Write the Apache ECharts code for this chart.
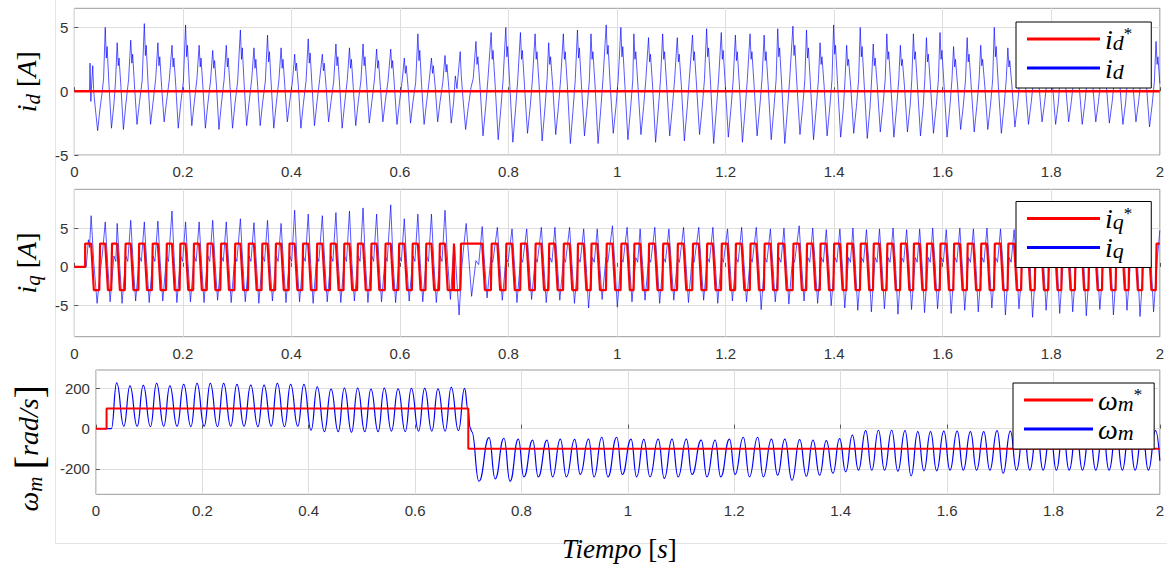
<!DOCTYPE html>
<html><head><meta charset="utf-8">
<script src="https://cdn.jsdelivr.net/npm/echarts@6/dist/echarts.min.js"></script>
<style>html,body{margin:0;padding:0;background:#fff}#c{width:1167px;height:569px}</style>
</head><body><div id="c"></div>
<script>
// ---------- tick labels ----------
const xTickStep = 0.2;
const yTicksId = [-5, 0, 5];
const yTicksIq = [-5, 0, 5];
const yTicksW = [-200, 0, 200];

// ---------- i_d ----------
const idRef = [[0,0],[2,0]];
const idMeas = [
[0,0],[0.028,0],[0.029,2.2],[0.0305,-0.8],[0.032,0.6],[0.034,2.0],[0.0355,0.2],[0.037,-0.6],[0.043,-3.1],[0.047,-1.5],[0.051,-0.2],[0.054,1.0],
[0.057,5.0],[0.059,2.6],[0.0605,3.5],[0.064,0.4],[0.0685,-2.9],[0.073,-1.0],[0.076,0.8],
[0.079,3.8],[0.081,2.0],[0.0825,2.6],[0.086,0.3],[0.0905,-3.0],[0.095,-1.0],[0.100,0.9],
[0.104,4.0],[0.106,2.2],[0.1075,2.9],[0.111,0.4],[0.1155,-2.6],[0.120,-0.9],[0.125,0.8],
[0.129,5.3],[0.131,2.8],[0.1325,3.6],[0.136,0.5],[0.1405,-2.6],[0.145,-0.9],[0.150,1.0],
[0.154,3.8],[0.156,2.0],[0.1575,2.7],[0.161,0.3],[0.1655,-2.4],[0.170,-0.8],[0.175,0.9],
[0.180,3.6],[0.182,1.9],[0.1835,2.6],[0.187,0.4],[0.1915,-2.9],[0.196,-1.0],[0.201,0.8],
[0.205,5.2],[0.207,2.7],[0.2085,3.6],[0.212,0.5],[0.2165,-2.7],[0.221,-0.9],[0.226,1.0],
[0.230,3.6],[0.232,1.9],[0.2335,2.6],[0.237,0.3],[0.2415,-2.9],[0.246,-1.0],[0.251,0.8],
[0.255,3.2],[0.257,1.8],[0.2585,2.4],[0.262,0.4],[0.2665,-3.0],[0.271,-1.0],[0.276,0.9],
[0.280,3.6],[0.282,1.9],[0.2835,2.6],[0.287,0.3],[0.2915,-2.9],[0.296,-1.0],[0.301,0.8],
[0.306,4.8],[0.308,2.5],[0.3095,3.4],[0.313,0.5],[0.3175,-2.7],[0.322,-0.9],[0.327,1.0],
[0.331,3.4],[0.333,1.8],[0.3345,2.5],[0.338,0.3],[0.3425,-2.7],[0.347,-0.9],[0.352,0.8],
[0.356,4.4],[0.358,2.3],[0.3595,3.1],[0.363,0.4],[0.3675,-2.9],[0.372,-1.0],[0.377,0.9],
[0.381,3.4],[0.383,1.8],[0.3845,2.5],[0.388,0.3],[0.3925,-2.4],[0.397,-0.8],[0.402,0.8],
[0.406,2.9],[0.408,1.6],[0.4095,2.2],[0.413,0.3],[0.4175,-2.9],[0.422,-1.0],[0.427,0.8],
[0.431,4.1],[0.433,2.2],[0.4345,3.0],[0.438,0.4],[0.4425,-2.7],[0.447,-0.9],[0.452,0.9],
[0.457,2.9],[0.459,1.6],[0.4605,2.2],[0.464,0.3],[0.4685,-2.4],[0.473,-0.8],[0.478,0.8],
[0.482,3.7],[0.484,2.0],[0.4855,2.7],[0.489,0.4],[0.4935,-2.9],[0.498,-1.0],[0.503,0.9],
[0.507,3.4],[0.509,1.8],[0.5105,2.5],[0.514,0.3],[0.5185,-2.7],[0.523,-0.9],[0.528,0.8],
[0.532,3.7],[0.534,2.0],[0.5355,2.7],[0.539,0.4],[0.5435,-2.5],[0.548,-0.9],[0.553,0.9],
[0.557,3.3],[0.559,1.8],[0.5605,2.4],[0.564,0.3],[0.5685,-2.4],[0.573,-0.8],[0.578,0.8],
[0.583,3.3],[0.585,1.8],[0.5865,2.4],[0.590,0.3],[0.5945,-2.6],[0.599,-0.9],[0.604,0.8],
[0.608,2.6],[0.610,1.4],[0.6115,2.0],[0.615,0.3],[0.6195,-2.5],[0.624,-0.8],[0.629,0.7],
[0.633,4.5],[0.635,2.4],[0.6365,3.2],[0.640,0.4],[0.6445,-2.6],[0.649,-0.9],[0.654,0.9],
[0.658,2.6],[0.660,1.4],[0.6615,2.0],[0.665,0.3],[0.6695,-2.4],[0.674,-0.8],[0.679,0.7],
[0.683,2.8],[0.685,1.5],[0.6865,2.1],[0.690,0.3],[0.6945,-2.5],[0.699,-0.8],
[0.702,1.2],[0.705,0.2],[0.711,3.1],[0.713,1.2],[0.716,-0.5],[0.721,-3.0],[0.726,-1.2],[0.731,0.3],[0.735,1.0],
[0.740,3.9],[0.742,2.1],[0.7435,2.7],[0.7475,0.4],[0.753,-3.5],[0.758,-1.2],[0.762,0.9],
[0.768,4.6],[0.770,2.5],[0.7715,3.2],[0.7755,0.4],[0.781,-3.8],[0.786,-1.3],[0.790,0.9],
[0.795,5.0],[0.797,2.7],[0.7985,3.5],[0.8025,0.4],[0.808,-4.0],[0.813,-1.4],[0.817,0.9],
[0.822,4.6],[0.824,2.5],[0.8255,3.2],[0.8295,0.4],[0.835,-3.3],[0.840,-1.2],[0.844,0.9],
[0.849,4.5],[0.851,2.5],[0.8525,3.1],[0.8565,0.4],[0.862,-3.9],[0.867,-1.4],[0.871,0.9],
[0.874,3.8],[0.876,2.1],[0.8775,2.7],[0.8815,0.4],[0.887,-3.4],[0.892,-1.2],[0.896,0.9],
[0.901,4.5],[0.903,2.5],[0.9045,3.1],[0.9085,0.4],[0.914,-4.1],[0.919,-1.4],[0.923,0.9],
[0.927,4.8],[0.929,2.6],[0.9305,3.4],[0.9345,0.4],[0.940,-3.5],[0.945,-1.2],[0.949,0.9],
[0.952,4.5],[0.954,2.5],[0.9555,3.1],[0.9595,0.4],[0.965,-4.1],[0.970,-1.4],[0.974,0.9],
[0.980,5.2],[0.982,2.9],[0.9835,3.6],[0.9875,0.4],[0.993,-3.3],[0.998,-1.2],[1.002,0.9],
[1.007,5.0],[1.009,2.7],[1.0105,3.5],[1.0145,0.4],[1.020,-3.8],[1.025,-1.3],[1.029,0.9],
[1.031,4.5],[1.033,2.5],[1.0345,3.1],[1.0385,0.4],[1.044,-3.4],[1.049,-1.2],[1.053,0.9],
[1.058,4.2],[1.060,2.3],[1.0615,2.9],[1.0655,0.4],[1.071,-4.0],[1.076,-1.4],[1.080,0.9],
[1.084,4.5],[1.086,2.5],[1.0875,3.1],[1.0915,0.4],[1.097,-3.5],[1.102,-1.2],[1.106,0.9],
[1.111,4.2],[1.113,2.3],[1.1145,2.9],[1.1185,0.4],[1.124,-3.9],[1.129,-1.4],[1.133,0.9],
[1.139,4.4],[1.141,2.4],[1.1425,3.1],[1.1465,0.4],[1.152,-3.4],[1.157,-1.2],[1.161,0.9],
[1.165,4.9],[1.167,2.7],[1.1685,3.4],[1.1725,0.4],[1.178,-4.1],[1.183,-1.4],[1.187,0.9],
[1.192,4.6],[1.194,2.5],[1.1955,3.2],[1.1995,0.4],[1.205,-3.6],[1.210,-1.3],[1.214,0.9],
[1.218,4.4],[1.220,2.4],[1.2215,3.1],[1.2255,0.4],[1.231,-4.0],[1.236,-1.4],[1.240,0.9],
[1.245,4.5],[1.247,2.5],[1.2485,3.1],[1.2525,0.4],[1.258,-3.5],[1.263,-1.2],[1.267,0.9],
[1.271,4.4],[1.273,2.4],[1.2745,3.1],[1.2785,0.4],[1.284,-3.8],[1.289,-1.3],[1.293,0.9],
[1.296,4.9],[1.298,2.7],[1.2995,3.4],[1.3035,0.4],[1.309,-4.1],[1.314,-1.4],[1.318,0.9],
[1.324,5.1],[1.326,2.8],[1.3275,3.6],[1.3315,0.4],[1.337,-3.4],[1.342,-1.2],[1.346,0.9],
[1.349,4.8],[1.351,2.6],[1.3525,3.4],[1.3565,0.4],[1.362,-3.8],[1.367,-1.3],[1.371,0.9],
[1.374,3.8],[1.376,2.1],[1.3775,2.7],[1.3815,0.4],[1.387,-3.5],[1.392,-1.2],[1.396,0.9],
[1.399,5.2],[1.401,2.9],[1.4025,3.6],[1.4065,0.4],[1.412,-3.6],[1.417,-1.3],[1.420,0.9],
[1.423,3.6],[1.425,2.0],[1.4265,2.5],[1.4305,0.4],[1.436,-3.3],[1.441,-1.2],[1.445,0.9],
[1.448,5.0],[1.450,2.7],[1.4515,3.5],[1.4555,0.4],[1.461,-3.7],[1.466,-1.3],[1.469,0.9],
[1.472,3.7],[1.474,2.0],[1.4755,2.6],[1.4795,0.4],[1.485,-3.2],[1.490,-1.1],[1.494,0.9],
[1.497,4.5],[1.499,2.5],[1.5005,3.1],[1.5045,0.4],[1.510,-3.6],[1.515,-1.3],[1.519,0.9],
[1.522,3.6],[1.524,2.0],[1.5255,2.5],[1.5295,0.4],[1.535,-3.2],[1.540,-1.1],[1.543,0.9],
[1.546,4.5],[1.548,2.5],[1.5495,3.1],[1.5535,0.4],[1.559,-3.5],[1.564,-1.2],[1.567,0.9],
[1.570,4.2],[1.572,2.3],[1.5735,2.9],[1.5775,0.4],[1.583,-3.3],[1.588,-1.2],[1.592,0.9],
[1.595,4.6],[1.597,2.5],[1.5985,3.2],[1.6025,0.4],[1.608,-3.6],[1.613,-1.3],[1.617,0.9],
[1.620,3.5],[1.622,1.9],[1.6235,2.5],[1.6275,0.4],[1.633,-3.0],[1.638,-1.1],[1.642,0.9],
[1.645,4.2],[1.647,2.3],[1.6485,2.9],[1.6525,0.4],[1.658,-3.2],[1.663,-1.1],[1.667,0.9],
[1.670,3.6],[1.672,2.0],[1.6735,2.5],[1.6775,0.4],[1.683,-3.0],[1.688,-1.1],[1.692,0.9],
[1.695,5.0],[1.697,2.7],[1.6985,3.5],[1.7025,0.4],[1.708,-3.3],[1.713,-1.2],[1.717,0.9],
[1.720,3.4],[1.722,1.9],[1.7235,2.4],[1.7275,0.4],[1.733,-2.8],[1.738,-1.0],[1.742,0.9],
[1.745,3.2],[1.747,1.8],[1.7485,2.2],[1.7525,0.4],[1.758,-2.6],[1.763,-0.9],[1.767,0.8],
[1.770,3.0],[1.772,1.7],[1.7735,2.1],[1.7775,0.4],[1.783,-2.4],[1.788,-0.8],[1.792,0.8],
[1.795,3.0],[1.797,1.7],[1.7985,2.1],[1.8025,0.4],[1.808,-2.6],[1.813,-0.9],[1.816,0.8],
[1.819,3.0],[1.821,1.7],[1.8225,2.1],[1.8265,0.4],[1.832,-2.4],[1.837,-0.8],[1.841,0.8],
[1.844,3.0],[1.846,1.7],[1.8475,2.1],[1.8515,0.4],[1.857,-2.6],[1.862,-0.9],[1.866,0.8],
[1.869,3.0],[1.871,1.7],[1.8725,2.1],[1.8765,0.4],[1.882,-2.4],[1.887,-0.8],[1.891,0.8],
[1.894,3.0],[1.896,1.7],[1.8975,2.1],[1.9015,0.4],[1.907,-2.5],[1.912,-0.9],[1.916,0.8],
[1.919,3.0],[1.921,1.7],[1.9225,2.1],[1.9265,0.4],[1.932,-2.6],[1.937,-0.9],[1.940,0.8],
[1.943,3.0],[1.945,1.7],[1.9465,2.1],[1.9505,0.4],[1.956,-2.4],[1.961,-0.8],[1.965,0.8],
[1.968,3.0],[1.970,1.7],[1.9715,2.1],[1.9755,0.4],[1.981,-2.8],[1.986,-1.0],[1.990,0.8],
[1.993,3.9],[1.995,2.1],[1.9965,2.7],[2.0,0.6]
];

// ---------- i_q ----------
const iqRef = [
[0,0],[0.02,0],[0.02,3],[0.031,3],[0.036,-3],[0.046,-3],[0.0475,3],[0.057,3],[0.062,-3],
[0.068,-3],[0.0695,3],[0.079,3],[0.084,-3],
[0.093,-3],[0.0945,3],[0.104,3],[0.109,-3],
[0.118,-3],[0.1195,3],[0.129,3],[0.134,-3],
[0.143,-3],[0.1445,3],[0.154,3],[0.159,-3],
[0.169,-3],[0.1705,3],[0.180,3],[0.185,-3],
[0.194,-3],[0.1955,3],[0.205,3],[0.210,-3],
[0.219,-3],[0.2205,3],[0.230,3],[0.235,-3],
[0.244,-3],[0.2455,3],[0.255,3],[0.260,-3],
[0.269,-3],[0.2705,3],[0.280,3],[0.285,-3],
[0.295,-3],[0.2965,3],[0.306,3],[0.311,-3],
[0.320,-3],[0.3215,3],[0.331,3],[0.336,-3],
[0.345,-3],[0.3465,3],[0.356,3],[0.361,-3],
[0.370,-3],[0.3715,3],[0.381,3],[0.386,-3],
[0.395,-3],[0.3965,3],[0.406,3],[0.411,-3],
[0.420,-3],[0.4215,3],[0.431,3],[0.436,-3],
[0.446,-3],[0.4475,3],[0.457,3],[0.462,-3],
[0.471,-3],[0.4725,3],[0.482,3],[0.487,-3],
[0.496,-3],[0.4975,3],[0.507,3],[0.512,-3],
[0.521,-3],[0.5225,3],[0.532,3],[0.537,-3],
[0.546,-3],[0.5475,3],[0.557,3],[0.562,-3],
[0.572,-3],[0.5735,3],[0.583,3],[0.588,-3],
[0.597,-3],[0.5985,3],[0.608,3],[0.613,-3],
[0.622,-3],[0.6235,3],[0.633,3],[0.638,-3],
[0.647,-3],[0.6485,3],[0.658,3],[0.663,-3],
[0.672,-3],[0.6735,3],[0.683,3],[0.688,-3],
[0.697,-3],[0.6995,3],[0.6995,-3],[0.711,-3],[0.7125,3],[0.7515,3],[0.7565,-3],
[0.7675,-3],[0.769,3],[0.7795,3],[0.7845,-3],
[0.7945,-3],[0.796,3],[0.8065,3],[0.8115,-3],
[0.8215,-3],[0.823,3],[0.8335,3],[0.8385,-3],
[0.8485,-3],[0.850,3],[0.8605,3],[0.8655,-3],
[0.8735,-3],[0.875,3],[0.8855,3],[0.8905,-3],
[0.9005,-3],[0.902,3],[0.9125,3],[0.9175,-3],
[0.9265,-3],[0.928,3],[0.9385,3],[0.9435,-3],
[0.9515,-3],[0.953,3],[0.9635,3],[0.9685,-3],
[0.9795,-3],[0.981,3],[0.9915,3],[0.9965,-3],
[1.0065,-3],[1.008,3],[1.0185,3],[1.0235,-3],
[1.0305,-3],[1.032,3],[1.0425,3],[1.0475,-3],
[1.0575,-3],[1.059,3],[1.0695,3],[1.0745,-3],
[1.0835,-3],[1.085,3],[1.0955,3],[1.1005,-3],
[1.1105,-3],[1.112,3],[1.1225,3],[1.1275,-3],
[1.1385,-3],[1.140,3],[1.1505,3],[1.1555,-3],
[1.1645,-3],[1.166,3],[1.1765,3],[1.1815,-3],
[1.1915,-3],[1.193,3],[1.2035,3],[1.2085,-3],
[1.2175,-3],[1.219,3],[1.2295,3],[1.2345,-3],
[1.2445,-3],[1.246,3],[1.2565,3],[1.2615,-3],
[1.2705,-3],[1.272,3],[1.2825,3],[1.2875,-3],
[1.2955,-3],[1.297,3],[1.3075,3],[1.3125,-3],
[1.3235,-3],[1.325,3],[1.3355,3],[1.3405,-3],
[1.3485,-3],[1.350,3],[1.3605,3],[1.3655,-3],
[1.3735,-3],[1.375,3],[1.3855,3],[1.3905,-3],
[1.3985,-3],[1.400,3],[1.4105,3],[1.4155,-3],
[1.4225,-3],[1.424,3],[1.4345,3],[1.4395,-3],
[1.4475,-3],[1.449,3],[1.4595,3],[1.4645,-3],
[1.4715,-3],[1.473,3],[1.4835,3],[1.4885,-3],
[1.4965,-3],[1.498,3],[1.5085,3],[1.5135,-3],
[1.5215,-3],[1.523,3],[1.5335,3],[1.5385,-3],
[1.5455,-3],[1.547,3],[1.5575,3],[1.5625,-3],
[1.5695,-3],[1.571,3],[1.5815,3],[1.5865,-3],
[1.5945,-3],[1.596,3],[1.6065,3],[1.6115,-3],
[1.6195,-3],[1.621,3],[1.6315,3],[1.6365,-3],
[1.6445,-3],[1.646,3],[1.6565,3],[1.6615,-3],
[1.6695,-3],[1.671,3],[1.6815,3],[1.6865,-3],
[1.6945,-3],[1.696,3],[1.7065,3],[1.7115,-3],
[1.7195,-3],[1.721,3],[1.7315,3],[1.7365,-3],
[1.7445,-3],[1.746,3],[1.7565,3],[1.7615,-3],
[1.7695,-3],[1.771,3],[1.7815,3],[1.7865,-3],
[1.7945,-3],[1.796,3],[1.8065,3],[1.8115,-3],
[1.8185,-3],[1.820,3],[1.8305,3],[1.8355,-3],
[1.8435,-3],[1.845,3],[1.8555,3],[1.8605,-3],
[1.8685,-3],[1.870,3],[1.8805,3],[1.8855,-3],
[1.8935,-3],[1.895,3],[1.9055,3],[1.9105,-3],
[1.9185,-3],[1.920,3],[1.9305,3],[1.9355,-3],
[1.9425,-3],[1.944,3],[1.9545,3],[1.9595,-3],
[1.9675,-3],[1.969,3],[1.9795,3],[1.9845,-3],
[1.9925,-3],[1.994,3],[2.0,3]
];
const iqMeas = [
[0,0],[0.022,0],[0.026,3.5],[0.028,2.5],[0.031,6.6],[0.036,0.5],[0.042,-4.7],[0.048,-0.5],[0.052,1.8],
[0.057,5.8],[0.0615,0.4],[0.066,-4.5],[0.073,1.4],[0.0765,0.7],
[0.079,5.6],[0.0835,0.4],[0.088,-4.7],[0.095,1.4],[0.0985,0.7],
[0.104,6.0],[0.1085,0.4],[0.113,-4.4],[0.120,1.4],[0.1235,0.7],
[0.129,5.8],[0.1335,0.4],[0.138,-4.6],[0.145,1.4],[0.1485,0.7],
[0.154,5.9],[0.1585,0.4],[0.163,-4.4],[0.170,1.4],[0.1735,0.7],
[0.180,7.2],[0.1845,0.4],[0.189,-4.6],[0.196,1.4],[0.1995,0.7],
[0.205,5.8],[0.2095,0.4],[0.214,-4.5],[0.221,1.4],[0.2245,0.7],
[0.230,5.8],[0.2345,0.4],[0.239,-4.6],[0.246,1.4],[0.2495,0.7],
[0.255,6.0],[0.2595,0.4],[0.264,-4.3],[0.271,1.4],[0.2745,0.7],
[0.280,5.8],[0.2845,0.4],[0.289,-4.6],[0.296,1.4],[0.2995,0.7],
[0.306,6.2],[0.3105,0.4],[0.315,-4.5],[0.322,1.4],[0.3255,0.7],
[0.331,5.7],[0.3355,0.4],[0.340,-4.7],[0.347,1.4],[0.3505,0.7],
[0.356,6.0],[0.3605,0.4],[0.365,-4.4],[0.372,1.4],[0.3755,0.7],
[0.381,5.6],[0.3855,0.4],[0.390,-4.6],[0.397,1.4],[0.4005,0.7],
[0.406,7.3],[0.4105,0.4],[0.415,-4.5],[0.422,1.4],[0.4255,0.7],
[0.431,6.8],[0.4355,0.4],[0.440,-4.7],[0.447,1.4],[0.4505,0.7],
[0.457,6.6],[0.4615,0.4],[0.466,-4.5],[0.473,1.4],[0.4765,0.7],
[0.482,7.0],[0.4865,0.4],[0.491,-4.6],[0.498,1.4],[0.5015,0.7],
[0.507,7.2],[0.5115,0.4],[0.516,-4.4],[0.523,1.4],[0.5265,0.7],
[0.532,7.6],[0.5365,0.4],[0.541,-4.6],[0.548,1.4],[0.5515,0.7],
[0.557,6.8],[0.5615,0.4],[0.566,-4.5],[0.573,1.4],[0.5765,0.7],
[0.583,8.0],[0.5875,0.4],[0.592,-4.6],[0.599,1.4],[0.6025,0.7],
[0.608,6.2],[0.6125,0.4],[0.617,-4.4],[0.624,1.4],[0.6275,0.7],
[0.633,6.8],[0.6375,0.4],[0.642,-4.5],[0.649,1.4],[0.6525,0.7],
[0.658,6.8],[0.6625,0.4],[0.667,-4.6],[0.674,1.4],[0.6775,0.7],
[0.683,7.3],[0.688,0.5],[0.693,-4.2],[0.698,1.5],[0.701,2.6],[0.705,-2.0],[0.709,-6.2],[0.714,0],[0.718,3.0],[0.722,5.6],[0.727,1.0],[0.732,-3.8],[0.740,0.8],[0.745,0.3],
[0.7515,5.2],[0.756,0.3],[0.7605,-4.0],[0.7675,1.2],[0.771,0.6],
[0.7795,5.1],[0.784,0.3],[0.7885,-4.3],[0.7955,1.2],[0.799,0.6],
[0.8065,4.9],[0.811,0.3],[0.8155,-4.6],[0.8225,1.2],[0.826,0.6],
[0.8335,4.9],[0.838,0.3],[0.8425,-4.2],[0.8495,1.2],[0.853,0.6],
[0.8605,5.1],[0.865,0.3],[0.8695,-4.6],[0.8765,1.2],[0.880,0.6],
[0.8855,5.1],[0.890,0.3],[0.8945,-4.3],[0.9015,1.2],[0.905,0.6],
[0.9125,5.1],[0.917,0.3],[0.9215,-4.7],[0.9285,1.2],[0.932,0.6],
[0.9385,4.9],[0.943,0.3],[0.9475,-5.3],[0.9545,1.2],[0.958,0.6],
[0.9635,4.9],[0.968,0.3],[0.9725,-4.2],[0.9795,1.2],[0.983,0.6],
[0.9915,5.3],[0.996,0.3],[1.0005,-5.2],[1.0075,1.2],[1.011,0.6],
[1.0185,5.1],[1.023,0.3],[1.0275,-4.5],[1.0345,1.2],[1.038,0.6],
[1.0425,4.9],[1.047,0.3],[1.0515,-4.3],[1.0585,1.2],[1.062,0.6],
[1.0695,5.1],[1.074,0.3],[1.0785,-4.7],[1.0855,1.2],[1.089,0.6],
[1.0955,4.9],[1.100,0.3],[1.1045,-4.3],[1.1115,1.2],[1.115,0.6],
[1.1225,5.1],[1.127,0.3],[1.1315,-4.6],[1.1385,1.2],[1.142,0.6],
[1.1505,5.1],[1.155,0.3],[1.1595,-4.3],[1.1665,1.2],[1.170,0.6],
[1.1765,5.1],[1.181,0.3],[1.1855,-4.7],[1.1925,1.2],[1.196,0.6],
[1.2035,4.9],[1.208,0.3],[1.2125,-4.4],[1.2195,1.2],[1.223,0.6],
[1.2295,5.1],[1.234,0.3],[1.2385,-4.5],[1.2455,1.2],[1.249,0.6],
[1.2565,5.1],[1.261,0.3],[1.2655,-5.5],[1.2725,1.2],[1.276,0.6],
[1.2825,4.9],[1.287,0.3],[1.2915,-4.5],[1.2985,1.2],[1.302,0.6],
[1.3075,5.0],[1.312,0.3],[1.3165,-4.8],[1.3235,1.2],[1.327,0.6],
[1.3355,5.3],[1.340,0.3],[1.3445,-4.4],[1.3515,1.2],[1.355,0.6],
[1.3605,5.0],[1.365,0.3],[1.3695,-4.7],[1.3765,1.2],[1.380,0.6],
[1.3855,4.8],[1.390,0.3],[1.3945,-5.0],[1.4015,1.2],[1.405,0.6],
[1.4105,4.9],[1.415,0.3],[1.4195,-5.3],[1.4265,1.2],[1.430,0.6],
[1.4345,5.0],[1.439,0.3],[1.4435,-5.6],[1.4505,1.2],[1.454,0.6],
[1.4595,4.8],[1.464,0.3],[1.4685,-5.8],[1.4755,1.2],[1.479,0.6],
[1.4835,4.9],[1.488,0.3],[1.4925,-5.4],[1.4995,1.2],[1.503,0.6],
[1.5085,5.0],[1.513,0.3],[1.5175,-6.1],[1.5245,1.2],[1.528,0.6],
[1.5335,4.8],[1.538,0.3],[1.5425,-5.5],[1.5495,1.2],[1.553,0.6],
[1.5575,4.9],[1.562,0.3],[1.5665,-5.9],[1.5735,1.2],[1.577,0.6],
[1.5815,5.0],[1.586,0.3],[1.5905,-5.4],[1.5975,1.2],[1.601,0.6],
[1.6065,4.8],[1.611,0.3],[1.6155,-6.0],[1.6225,1.2],[1.626,0.6],
[1.6315,5.0],[1.636,0.3],[1.6405,-5.6],[1.6475,1.2],[1.651,0.6],
[1.6565,4.9],[1.661,0.3],[1.6655,-5.8],[1.6725,1.2],[1.676,0.6],
[1.6815,5.0],[1.686,0.3],[1.6905,-5.3],[1.6975,1.2],[1.701,0.6],
[1.7065,4.9],[1.711,0.3],[1.7155,-6.2],[1.7225,1.2],[1.726,0.6],
[1.7315,4.8],[1.736,0.3],[1.7405,-5.4],[1.7475,1.2],[1.751,0.6],
[1.7565,4.8],[1.761,0.3],[1.7655,-6.5],[1.7725,1.2],[1.776,0.6],
[1.7815,4.9],[1.786,0.3],[1.7905,-5.6],[1.7975,1.2],[1.801,0.6],
[1.8065,4.8],[1.811,0.3],[1.8155,-6.0],[1.8225,1.2],[1.826,0.6],
[1.8305,4.9],[1.835,0.3],[1.8395,-5.8],[1.8465,1.2],[1.850,0.6],
[1.8555,4.8],[1.860,0.3],[1.8645,-6.3],[1.8715,1.2],[1.875,0.6],
[1.8805,4.9],[1.885,0.3],[1.8895,-5.5],[1.8965,1.2],[1.900,0.6],
[1.9055,4.8],[1.910,0.3],[1.9145,-6.2],[1.9215,1.2],[1.925,0.6],
[1.9305,4.9],[1.935,0.3],[1.9395,-5.6],[1.9465,1.2],[1.950,0.6],
[1.9545,4.8],[1.959,0.3],[1.9635,-6.4],[1.9705,1.2],[1.974,0.6],
[1.9795,5.0],[1.984,0.3],[1.9885,-5.8],[1.9955,1.2],[2.0,4.7]
];

// ---------- omega_m ----------
const wRef = [[0,0],[0.02,0],[0.02,100],[0.7,100],[0.7,-100],[2,-100]];
const wMeas = [
[0,0],[0.029,0],[0.039,228],
[0.0525,12],[0.064,213],[0.0775,12],[0.089,215],[0.1025,10],[0.114,225],
[0.1275,12],[0.139,213],[0.1525,12],[0.165,220],[0.1785,10],[0.190,225],
[0.2035,12],[0.215,225],[0.2285,10],[0.240,225],[0.2535,12],[0.265,220],
[0.2785,12],[0.291,217],[0.3045,10],[0.316,217],[0.3295,12],[0.341,225],
[0.3545,10],[0.366,220],[0.3795,12],[0.391,220],[0.4045,-8],[0.416,208],
[0.4295,-15],[0.442,197],[0.4555,-15],[0.467,202],[0.4805,-18],[0.492,202],
[0.5055,-15],[0.517,197],[0.5305,-15],[0.542,202],[0.5555,-12],[0.568,198],
[0.5815,-15],[0.593,200],[0.6065,-12],[0.618,200],[0.6315,-12],[0.643,198],
[0.6565,-12],[0.668,205],[0.6815,-10],[0.693,200],
[0.6995,95],[0.7035,5],[0.7065,-15],[0.720,-262],
[0.739,-45],[0.7505,-250],[0.767,-48],[0.7785,-262],[0.794,-52],[0.8045,-240],
[0.821,-57],[0.8315,-240],[0.848,-57],[0.8585,-240],[0.873,-52],[0.8845,-240],
[0.900,-53],[0.9105,-228],[0.926,-52],[0.9365,-240],[0.951,-43],[0.9625,-240],
[0.979,-43],[0.9895,-228],[1.006,-52],[1.0165,-240],[1.030,-53],[1.0415,-240],
[1.057,-52],[1.0685,-248],[1.083,-52],[1.0945,-240],[1.110,-52],[1.1205,-228],
[1.138,-57],[1.1485,-240],[1.164,-57],[1.1745,-240],[1.191,-52],[1.2015,-228],
[1.217,-43],[1.2285,-240],[1.244,-43],[1.2545,-240],[1.270,-52],[1.2815,-232],
[1.295,-52],[1.3085,-257],[1.323,-55],[1.3355,-237],[1.348,-57],[1.3605,-232],
[1.373,-60],[1.3855,-222],[1.398,-50],[1.4095,-215],[1.422,-32],[1.4335,-207],
[1.447,-10],[1.4585,-207],[1.471,-8],[1.4825,-207],[1.496,-8],[1.5075,-212],
[1.521,-10],[1.5325,-235],[1.545,-15],[1.5565,-210],[1.569,-15],[1.5805,-210],
[1.594,-12],[1.6055,-207],[1.619,-12],[1.6305,-207],[1.644,-15],[1.6555,-207],
[1.669,-15],[1.6805,-207],[1.694,-10],[1.7055,-222],[1.719,-12],[1.7305,-207],
[1.744,-12],[1.7555,-207],[1.769,-12],[1.7805,-207],[1.794,-12],[1.8055,-207],
[1.818,-12],[1.8295,-207],[1.843,-12],[1.8545,-207],[1.868,-12],[1.8795,-207],
[1.893,-12],[1.9045,-207],[1.918,-12],[1.9295,-207],[1.942,-12],[1.9535,-207],
[1.967,-12],[1.9785,-207],[1.992,-10],[2.0,-160]
];

// ---------- styling ----------
const SERIF = "'Liberation Serif','DejaVu Serif',serif";
const SANS = "'Liberation Sans',Arial,Helvetica,sans-serif";
const BLUE = '#0000ff', RED = '#ff0000';

function mathRich(fs, lh, subK) {
  const k = subK || 0.7;
  return {
    v: {fontFamily: SERIF, fontStyle: 'italic', fontSize: fs, lineHeight: lh, color: '#000'},
    s: {fontFamily: SERIF, fontStyle: 'italic', fontSize: Math.round(fs * k), lineHeight: Math.round(lh * 0.55), verticalAlign: 'bottom', color: '#000'},
    p: {fontFamily: SERIF, fontSize: Math.round(fs * 0.6), lineHeight: Math.round(lh * 0.4), verticalAlign: 'top', color: '#000'},
    b: {fontFamily: SERIF, fontSize: fs, lineHeight: lh, color: '#000'},
    B: {fontFamily: SERIF, fontSize: Math.round(fs * 1.45), lineHeight: lh, color: '#000'},
    g: {fontFamily: SERIF, fontSize: fs, lineHeight: lh, color: '#000'}
  };
}

const gridsPx = [
  {left: 74.3, top: 8.3, width: 1087.2, height: 146.7},
  {left: 74.3, top: 189.3, width: 1087.2, height: 147.4},
  {left: 92, top: 370, width: 1069.7, height: 124.3}
];

function xAx(i, extra) {
  return Object.assign({
    type: 'value', gridIndex: i, min: 0, max: 2, interval: xTickStep,
    axisLine: {show: false},
    axisTick: {show: true, inside: true, length: 4, lineStyle: {color: '#555'}},
    axisLabel: {fontSize: 15, color: '#333', fontFamily: SANS, margin: 9},
    splitLine: {show: true, lineStyle: {color: '#dedede', width: 1}}
  }, extra || {});
}
function yAx(i, min, max, ticks, name, gap, extra) {
  return Object.assign({
    type: 'value', gridIndex: i, min: min, max: max,
    axisLine: {show: false},
    axisTick: {show: true, inside: true, length: 4, customValues: ticks, lineStyle: {color: '#555'}},
    axisLabel: {fontSize: 15, color: '#333', fontFamily: SANS, margin: 6, customValues: ticks},
    splitLine: {show: true, lineStyle: {color: '#dedede', width: 1}},
    name: name, nameLocation: 'middle', nameRotate: 90, nameGap: gap,
    nameTextStyle: {rich: mathRich(28, 34, 0.75)}
  }, extra || {});
}

const legendNames = {
  'id*': '{v|i}{s|d}{p|*}', 'id': '{v|i}{s|d}',
  'iq*': '{v|i}{s|q}{p|*}', 'iq': '{v|i}{s|q}',
  'wm*': '{v|ω}{s|m}{p|*}', 'wm': '{v|ω}{s|m}'
};
function legendOf(names, left, top, w, rp) {
  return {
    show: true, orient: 'vertical', left: left, top: top,
    data: [{name: names[0], itemStyle: {color: RED}}, {name: names[1], itemStyle: {color: BLUE}}],
    icon: 'rect', itemWidth: w, itemHeight: 3, itemGap: 1,
    padding: [3, rp, 6, 11], backgroundColor: '#fff', borderColor: '#000', borderWidth: 1, borderRadius: 0,
    selectedMode: false,
    formatter: n => legendNames[n],
    textStyle: {rich: mathRich(28, 28, 0.78)}
  };
}

function lineS(name, xi, data, color, width, extra) {
  return Object.assign({
    type: 'line', name: name, xAxisIndex: xi, yAxisIndex: xi, data: data,
    showSymbol: false, symbol: 'none', animation: false, silent: true,
    lineStyle: {color: color, width: width}, itemStyle: {color: color}
  }, extra || {});
}

const chart = echarts.init(document.getElementById('c'), null, {renderer: 'svg'});
chart.setOption({
  backgroundColor: '#fff',
  animation: false,
  grid: gridsPx.map(g => Object.assign({show: true, borderColor: '#9a9a9a', borderWidth: 1, backgroundColor: 'transparent', containLabel: false}, g)),
  xAxis: [
    xAx(0), xAx(1),
    xAx(2, {name: '{v|Tiempo}{g| }{b|[}{v|s}{b|]}', nameLocation: 'middle', nameGap: 38,
            nameTextStyle: {rich: mathRich(27, 34), padding: [0, 17, 0, 0]}})
  ],
  yAxis: [
    yAx(0, -5, 6.5, yTicksId, '{v|i}{s|d}{g| }{b|[}{v|A}{b|]}', 31),
    yAx(1, -9, 10, yTicksIq, '{v|i}{s|q}{g| }{b|[}{v|A}{b|]}', 31),
    yAx(2, -327, 292, yTicksW, '{v|ω}{s|m}{g| }{B|[}{v|rad/s}{B|]}', 40,
        {nameTextStyle: {rich: mathRich(28, 34, 0.75), padding: [0, 32, 0, 0]}})
  ],
  legend: [
    legendOf(['id*', 'id'], 1016, 22, 73, 19),
    legendOf(['iq*', 'iq'], 1016, 201.5, 73, 19),
    legendOf(['wm*', 'wm'], 1013, 383, 69, 12)
  ],
  graphic: [
    {type: 'line', shape: {x1: 55.5, y1: 0, x2: 55.5, y2: 543.5}, style: {stroke: '#e4e4e4', lineWidth: 1}, silent: true, z: -1},
    {type: 'line', shape: {x1: 55.5, y1: 543.5, x2: 1167, y2: 543.5}, style: {stroke: '#e4e4e4', lineWidth: 1}, silent: true, z: -1}
  ],
  series: [
    lineS('id', 0, idMeas, 'rgba(0,0,255,0.78)', 0.85),
    lineS('id*', 0, idRef, RED, 2.4),
    lineS('iq', 1, iqMeas, 'rgba(0,0,255,0.78)', 0.85),
    lineS('iq*', 1, iqRef, RED, 2.2),
    lineS('wm', 2, wMeas, BLUE, 1.2, {smooth: 0.5, smoothMonotone: 'x'}),
    lineS('wm*', 2, wRef, RED, 2.0)
  ]
});
</script>
</body></html>
